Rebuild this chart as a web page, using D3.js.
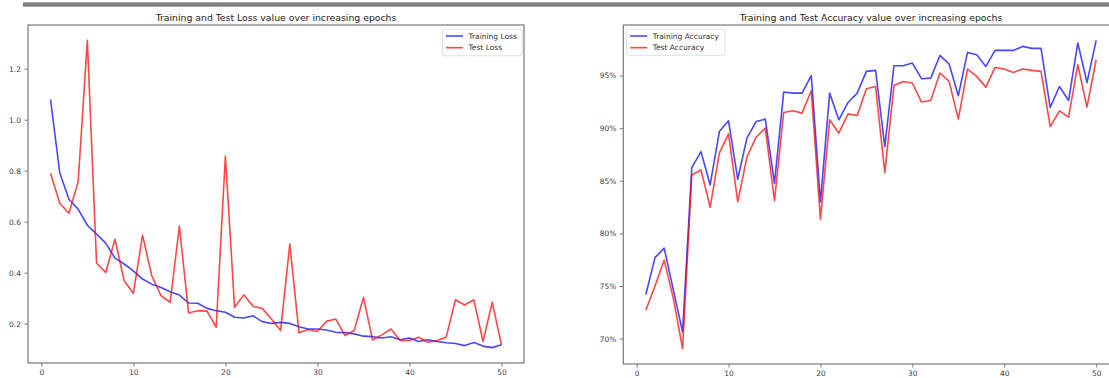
<!DOCTYPE html>
<html>
<head>
<meta charset="utf-8">
<script src="https://cdn.jsdelivr.net/npm/d3@7"></script>
<style>
  body { margin: 0; background: #fff; }
  svg text { font-family: "DejaVu Sans", sans-serif; }
</style>
</head>
<body>
<svg id="chart" width="1109" height="378"></svg>
<script>
// values
const epochs = d3.range(1, 51);

const trainLoss = [1.079, 0.792, 0.688, 0.649, 0.586, 0.551, 0.516, 0.457, 0.434, 0.407,
  0.375, 0.355, 0.342, 0.325, 0.312, 0.281, 0.280, 0.260, 0.251, 0.245,
  0.225, 0.222, 0.231, 0.208, 0.201, 0.205, 0.201, 0.188, 0.179, 0.179,
  0.175, 0.166, 0.165, 0.160, 0.151, 0.149, 0.144, 0.149, 0.137, 0.144,
  0.130, 0.137, 0.130, 0.125, 0.122, 0.114, 0.126, 0.112, 0.106, 0.117];
const testLoss = [0.790, 0.672, 0.633, 0.756, 1.311, 0.437, 0.401, 0.531, 0.368, 0.319,
  0.547, 0.388, 0.310, 0.284, 0.583, 0.242, 0.251, 0.249, 0.186, 0.857,
  0.264, 0.313, 0.268, 0.260, 0.218, 0.173, 0.512, 0.164, 0.177, 0.169,
  0.209, 0.218, 0.153, 0.173, 0.303, 0.136, 0.156, 0.179, 0.134, 0.134,
  0.147, 0.127, 0.134, 0.147, 0.294, 0.273, 0.294, 0.130, 0.284, 0.117];

const trainAcc = [74.19, 77.7, 78.6, 74.6, 70.63, 86.25, 87.77, 84.6, 89.68, 90.7,
  85.14, 89.05, 90.63, 90.86, 84.76, 93.43, 93.33, 93.33, 95.0, 82.98,
  93.33, 90.79, 92.44, 93.33, 95.4, 95.49, 88.25, 95.93, 95.93, 96.19,
  94.7, 94.76, 96.91, 96.1, 93.08, 97.2, 96.98, 95.87, 97.39, 97.39,
  97.39, 97.77, 97.58, 97.58, 91.96, 93.96, 92.63, 98.1, 94.34, 98.34];
const testAcc = [72.7, 75.0, 77.46, 73.8, 69.05, 85.55, 86.03, 82.48, 87.62, 89.46,
  83.0, 87.24, 89.14, 90.0, 83.1, 91.49, 91.65, 91.43, 93.55, 81.33,
  90.8, 89.52, 91.36, 91.2, 93.74, 93.96, 85.77, 94.06, 94.44, 94.29,
  92.48, 92.63, 95.24, 94.44, 90.86, 95.62, 94.92, 93.9, 95.77, 95.62,
  95.3, 95.62, 95.49, 95.4, 90.15, 91.65, 91.05, 96.03, 92.0, 96.5];

const xTicks = [0, 10, 20, 30, 40, 50];
const lossTicks = [0.2, 0.4, 0.6, 0.8, 1.0, 1.2];
const accTicks = [70, 75, 80, 85, 90, 95];

const svg = d3.select("#chart");

// grey strip across the top of the notebook output
svg.append("rect")
  .attr("x", 23).attr("y", 2.3)
  .attr("width", 1109 - 23).attr("height", 4.4)
  .attr("fill", "#808080");

function padded(ext) {
  const m = (ext[1] - ext[0]) * 0.05;
  return [ext[0] - m, ext[1] + m];
}

function drawPanel(opt) {
  const x = d3.scaleLinear().domain(padded(d3.extent(epochs))).range([opt.left, opt.right]);
  const all = opt.series.flatMap(s => s.values);
  const y = d3.scaleLinear().domain(padded(d3.extent(all))).range([opt.bottom, opt.top]);

  const g = svg.append("g");

  g.append("text")
    .attr("x", (opt.left + opt.right) / 2)
    .attr("y", 20.6)
    .attr("text-anchor", "middle")
    .attr("font-size", 9.3)
    .attr("fill", "#222")
    .text(opt.title);

  const line = d3.line().x((d, i) => x(epochs[i])).y(d => y(d));
  opt.series.forEach(s => {
    g.append("path")
      .attr("d", line(s.values))
      .attr("fill", "none")
      .attr("stroke", s.color)
      .attr("stroke-opacity", 0.72)
      .attr("stroke-width", 1.6)
      .attr("stroke-linejoin", "round");
  });

  const xAxis = g.append("g")
    .attr("transform", "translate(0," + opt.bottom + ")")
    .call(d3.axisBottom(x).tickValues(xTicks).tickSize(3.5).tickPadding(3.5).tickFormat(d3.format("d")));
  const yAxis = g.append("g")
    .attr("transform", "translate(" + opt.left + ",0)")
    .call(d3.axisLeft(y).tickValues(opt.yTicks).tickSize(3.5).tickPadding(3.5).tickFormat(opt.yFormat));

  [xAxis, yAxis].forEach(a => {
    a.select(".domain").remove();
    a.selectAll(".tick line").attr("stroke", "#555").attr("stroke-width", 0.8);
    a.selectAll(".tick text").attr("font-size", 7.5).attr("fill", "#444")
      .attr("font-family", "DejaVu Sans, sans-serif");
  });

  g.append("rect")
    .attr("x", opt.left).attr("y", opt.top)
    .attr("width", opt.right - opt.left).attr("height", opt.bottom - opt.top)
    .attr("fill", "none")
    .attr("stroke", "#777")
    .attr("stroke-width", 1.2);

  // legend
  const lg = opt.legend;
  const leg = g.append("g").attr("transform", "translate(" + lg.x + "," + lg.y + ")");
  leg.append("rect")
    .attr("width", lg.w).attr("height", lg.h)
    .attr("rx", 2)
    .attr("fill", "#fff").attr("fill-opacity", 0.8)
    .attr("stroke", "#d6d6d6").attr("stroke-width", 0.8);
  opt.series.forEach((s, i) => {
    const cy = 6.7 + i * 11.7;
    leg.append("line")
      .attr("x1", 3.5).attr("x2", 20.5)
      .attr("y1", cy).attr("y2", cy)
      .attr("stroke", s.color).attr("stroke-opacity", 0.72).attr("stroke-width", 1.6);
    leg.append("text")
      .attr("x", 26).attr("y", cy)
      .attr("dy", "0.35em")
      .attr("font-size", 7.5)
      .attr("fill", "#333")
      .text(s.name);
  });
}

drawPanel({
  left: 28, right: 524, top: 25, bottom: 363,
  title: "Training and Test Loss value over increasing epochs",
  series: [
    { name: "Training Loss", values: trainLoss, color: "blue" },
    { name: "Test Loss", values: testLoss, color: "red" }
  ],
  yTicks: lossTicks,
  yFormat: d3.format(".1f"),
  legend: { x: 442.5, y: 29.3, w: 79.5, h: 26.5 }
});

drawPanel({
  left: 623.3, right: 1118.7, top: 25, bottom: 364,
  title: "Training and Test Accuracy value over increasing epochs",
  series: [
    { name: "Training Accuracy", values: trainAcc, color: "blue" },
    { name: "Test Accuracy", values: testAcc, color: "red" }
  ],
  yTicks: accTicks,
  yFormat: d => d + "%",
  legend: { x: 626.7, y: 29.3, w: 98.3, h: 26 }
});
</script>
</body>
</html>
